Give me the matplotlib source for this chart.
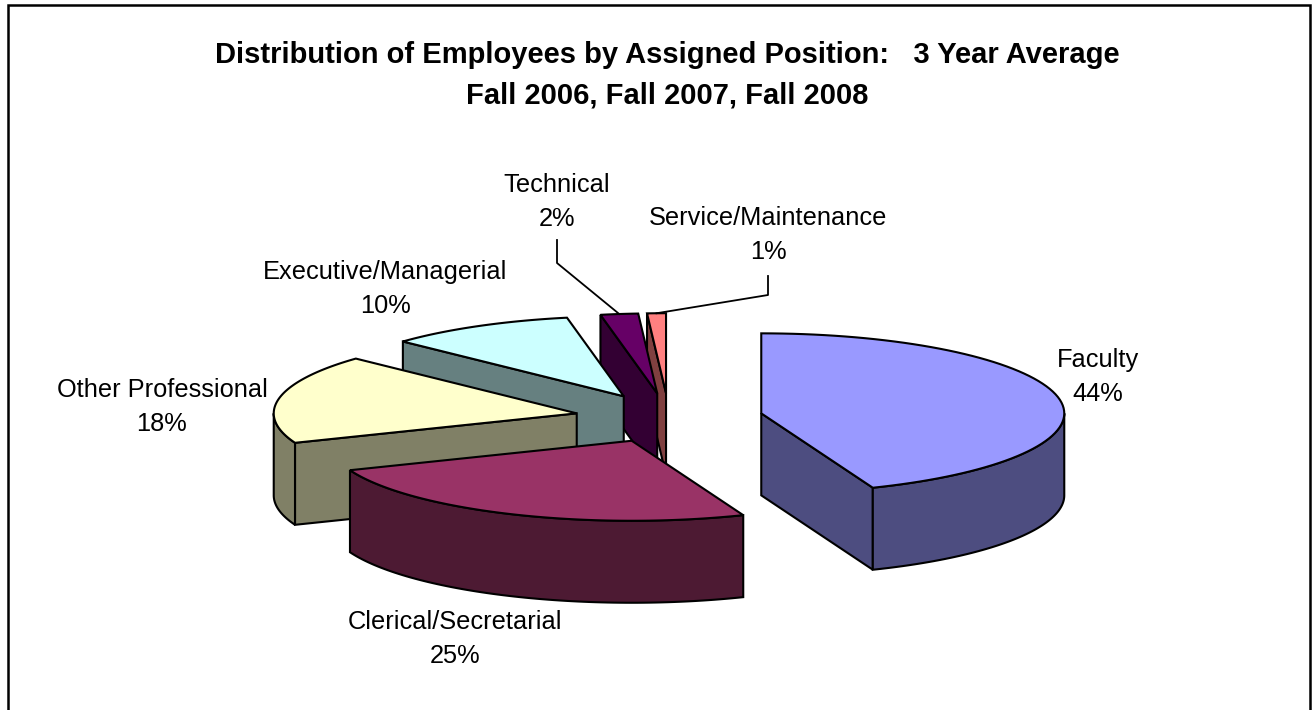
# 3D exploded pie - employees by assigned position

import numpy as np
import matplotlib.pyplot as plt
from matplotlib.patches import Polygon, Rectangle

categories = ['Faculty', 'Clerical/Secretarial', 'Other Professional',
              'Executive/Managerial', 'Technical', 'Service/Maintenance']
shares = [44, 25, 18, 10, 2, 1]
top_colors = ['#9999FF', '#993366', '#FFFFCC', '#CCFFFF', '#660066', '#FF8080']
side_colors = ['#4D4D80', '#4D1A33', '#808066', '#668080', '#330033', '#804040']

title_lines = ['Distribution of Employees by Assigned Position:   3 Year Average',
               'Fall 2006, Fall 2007, Fall 2008']

# label centres (pixels) - first line
label_pos = {
    'Faculty': (1098, 360),
    'Clerical/Secretarial': (455, 622),
    'Other Professional': (162, 390),
    'Executive/Managerial': (385, 272),
    'Technical': (557, 185),
    'Service/Maintenance': (768, 218),
}
leaders = {'Technical': (557, 240, 263), 'Service/Maintenance': (768, 276, 295)}

W, H = 1313, 710
CX, CY = 669, 418      # pie centre
A, B = 303, 80         # ellipse radii
DEPTH = 82             # thickness
EXPL = 0.31            # explosion
LW = 1.5


def pt(c, t, r=1.0):
    return c[0] + A * r * np.cos(t), c[1] - B * r * np.sin(t)


def arc(c, t0, t1, dy=0, n=80):
    ts = np.linspace(t0, t1, n)
    return np.column_stack([c[0] + A * np.cos(ts), c[1] - B * np.sin(ts) + dy])


def front_ranges(t0, t1):
    out = []
    for k in (-1, 0, 1):
        lo, hi = np.pi + 2 * np.pi * k, 2 * np.pi + 2 * np.pi * k
        a, b = max(t0, lo), min(t1, hi)
        if b > a:
            out.append((a, b))
    return out


fig = plt.figure(figsize=(W / 100, H / 100), dpi=100)
ax = fig.add_axes([0, 0, 1, 1])
ax.set_xlim(0, W)
ax.set_ylim(H, 0)
ax.axis('off')

# slices clockwise from 12 o'clock
vals = np.array(shares, dtype=float)
ends = np.pi / 2 - 2 * np.pi * np.cumsum(vals) / vals.sum()
starts = np.concatenate([[np.pi / 2], ends[:-1]])

slices = []
for i, cat in enumerate(categories):
    t0, t1 = ends[i], starts[i]  # t0 < t1
    mid = (t0 + t1) / 2
    c = (CX + A * EXPL * np.cos(mid), CY - B * EXPL * np.sin(mid))
    slices.append((np.sin(mid), i, t0, t1, mid, c))

slice_info = {}
for _, i, t0, t1, mid, c in sorted(slices, key=lambda s: -s[0]):
    slice_info[categories[i]] = (mid, c)
    kw = dict(edgecolor='black', linewidth=LW, joinstyle='miter')
    # radial faces
    if np.cos(t0) > 0:
        p = pt(c, t0)
        ax.add_patch(Polygon([c, p, (p[0], p[1] + DEPTH), (c[0], c[1] + DEPTH)],
                             facecolor=side_colors[i], **kw))
    if np.sin(t1 + np.pi / 2) < 0:
        p = pt(c, t1)
        ax.add_patch(Polygon([c, p, (p[0], p[1] + DEPTH), (c[0], c[1] + DEPTH)],
                             facecolor=side_colors[i], **kw))
    # outer rim
    for a0, a1 in front_ranges(t0, t1):
        top = arc(c, a0, a1)
        bot = arc(c, a1, a0, dy=DEPTH)
        ax.add_patch(Polygon(np.vstack([top, bot]), facecolor=side_colors[i], **kw))
    # top face
    ax.add_patch(Polygon(np.vstack([[c], arc(c, t0, t1)]),
                         facecolor=top_colors[i], **kw))

# labels
for cat, val in zip(categories, shares):
    x, y = label_pos[cat]
    ax.text(x, y, cat, ha='center', va='center', fontsize=18.3,
            family='Liberation Sans')
    ax.text(x, y + 34, f'{val}%', ha='center', va='center', fontsize=18.3,
            family='Liberation Sans')

# leader lines
for cat, (lx, y0, y1) in leaders.items():
    mid, c = slice_info[cat]
    ex, ey = pt(c, mid)
    ax.plot([lx, lx, ex], [y0, y1, ey], color='black', lw=1.3)

for k, line in enumerate(title_lines):
    ax.text(667, 55 + 40 * k, line, ha='center', va='center', fontsize=21,
            fontweight='bold', family='Liberation Sans')

fig.patches.append(Rectangle((8 / W, -0.05), 1302 / W, 1 - 5 / H + 0.05,
                             transform=fig.transFigure, fill=False,
                             edgecolor='black', linewidth=1.8))

fig.savefig('out.png', dpi=100)
